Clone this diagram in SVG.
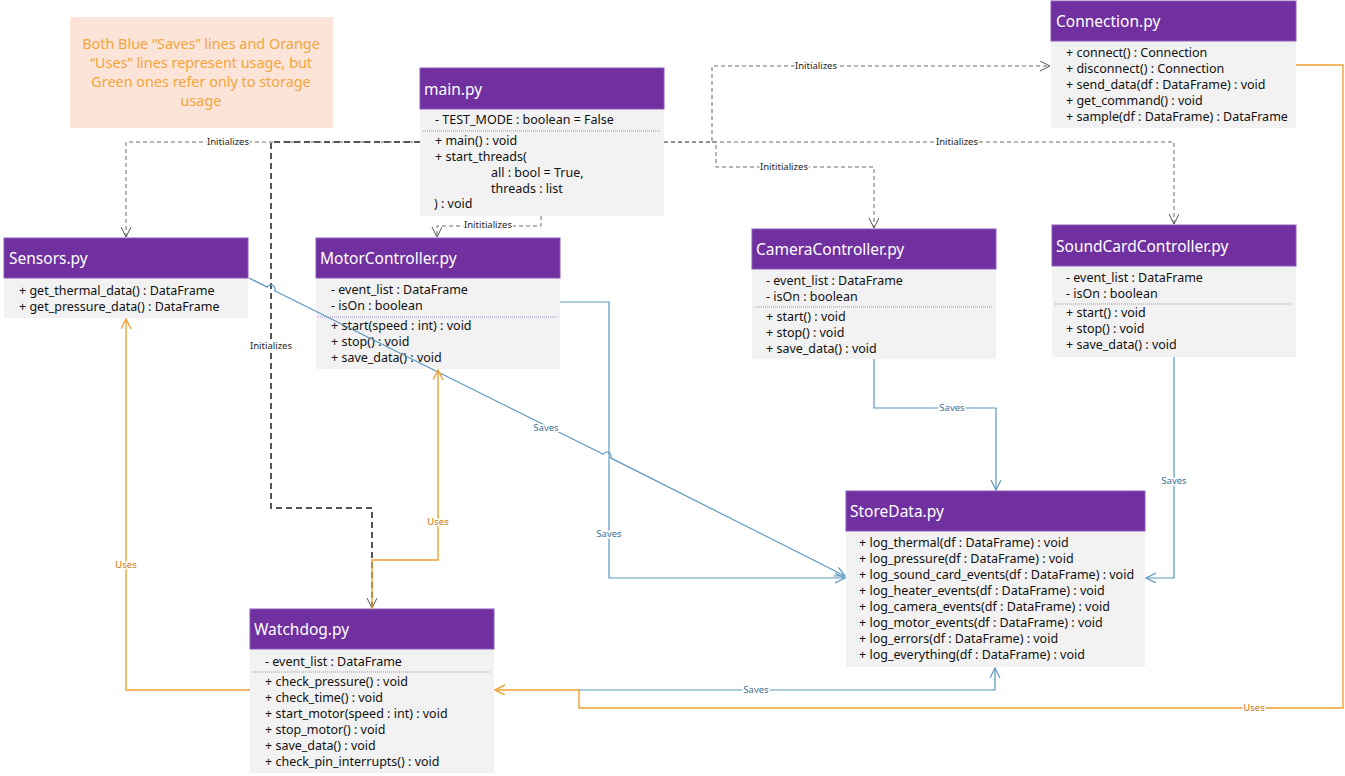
<svg xmlns="http://www.w3.org/2000/svg" width="1345" height="776" viewBox="0 0 1345 776">
<style>
.hd{fill:#7030a0;stroke:#8d5cbb;stroke-width:1}
.bd{fill:#f2f2f2}
.tt{font-family:"Noto Sans","Open Sans",sans-serif;font-size:15.5px;fill:#ffffff}
.tx{font-family:"Noto Sans","Open Sans",sans-serif;font-size:12.5px;fill:#111}
.sep{stroke:#a58cc8;stroke-width:1;stroke-dasharray:1 1}
.dash{fill:none;stroke:#6b6b6b;stroke-width:1;stroke-dasharray:4 3}
.dashk{fill:none;stroke:#555;stroke-width:2;stroke-dasharray:6 4}
.blue{fill:none;stroke:#5b97bf;stroke-width:1.2}
.org{fill:none;stroke:#f0a030;stroke-width:1.4}
.lb{font-family:"Noto Sans","Open Sans",sans-serif;font-size:9.5px;text-anchor:middle;stroke:#fff;stroke-width:3;paint-order:stroke}
.lk{fill:#222}
.lbb{fill:#3a6f9a}
.lbo{fill:#c8740c}
.note{font-family:"Noto Sans","Open Sans",sans-serif;font-size:14.4px;fill:#f4a43a;text-anchor:middle}
</style>
<defs>
<marker id="ag" markerUnits="userSpaceOnUse" markerWidth="12" markerHeight="12" refX="10" refY="5" orient="auto"><path d="M0,0 L10,5 L0,10" fill="none" stroke="#555" stroke-width="1"/></marker>
<marker id="ab" markerUnits="userSpaceOnUse" markerWidth="12" markerHeight="12" refX="10" refY="5" orient="auto"><path d="M0,0 L10,5 L0,10" fill="none" stroke="#5b97bf" stroke-width="1.2"/></marker>
<marker id="ao" markerUnits="userSpaceOnUse" markerWidth="12" markerHeight="12" refX="10" refY="5" orient="auto"><path d="M0,0 L10,5 L0,10" fill="none" stroke="#f0a030" stroke-width="1.4"/></marker>
</defs>
<rect width="1345" height="776" fill="#ffffff"/>

<g id="note">
<rect x="70" y="17" width="263" height="111" fill="#fce4d8"/>
<text class="note" x="201" y="49">Both Blue “Saves” lines and Orange</text>
<text class="note" x="201" y="68">“Uses” lines represent usage, but</text>
<text class="note" x="201" y="87">Green ones refer only to storage</text>
<text class="note" x="201" y="106">usage</text>
</g>

<g id="main">
<rect class="bd" x="420" y="109" width="244" height="107"/>
<rect class="hd" x="420" y="68" width="244" height="41"/>
<text class="tt" x="424" y="95">main.py</text>
<text class="tx" x="435" y="124">- TEST_MODE : boolean = False</text>
<line class="sep" x1="423" y1="131" x2="660" y2="131"/>
<text class="tx" x="435" y="145">+ main() : void</text>
<text class="tx" x="435" y="161">+ start_threads(</text>
<text class="tx" x="491" y="177">all : bool = True,</text>
<text class="tx" x="491" y="193">threads : list</text>
<text class="tx" x="434" y="208">) : void</text>
</g>

<g id="connection">
<rect class="bd" x="1051" y="41" width="245" height="87"/>
<rect class="hd" x="1051" y="1" width="245" height="40"/>
<text class="tt" x="1056" y="27">Connection.py</text>
<text class="tx" x="1066" y="57">+ connect() : Connection</text>
<text class="tx" x="1066" y="73">+ disconnect() : Connection</text>
<text class="tx" x="1066" y="89">+ send_data(df : DataFrame) : void</text>
<text class="tx" x="1066" y="105">+ get_command() : void</text>
<text class="tx" x="1066" y="121">+ sample(df : DataFrame) : DataFrame</text>
</g>

<g id="sensors">
<rect class="bd" x="4" y="278" width="244" height="40"/>
<rect class="hd" x="4" y="238" width="244" height="40"/>
<text class="tt" x="9" y="264">Sensors.py</text>
<text class="tx" x="19" y="295">+ get_thermal_data() : DataFrame</text>
<text class="tx" x="19" y="311">+ get_pressure_data() : DataFrame</text>
</g>

<g id="motor">
<rect class="bd" x="316" y="278" width="244" height="91"/>
<rect class="hd" x="316" y="238" width="244" height="40"/>
<text class="tt" x="320" y="264">MotorController.py</text>
<text class="tx" x="331" y="294">- event_list : DataFrame</text>
<text class="tx" x="331" y="310">- isOn : boolean</text>
<line class="sep" x1="318" y1="317" x2="557" y2="317"/>
<text class="tx" x="331" y="330">+ start(speed : int) : void</text>
<text class="tx" x="331" y="346">+ stop() : void</text>
<text class="tx" x="331" y="362">+ save_data() : void</text>
</g>

<g id="camera">
<rect class="bd" x="752" y="269" width="244" height="90"/>
<rect class="hd" x="752" y="229" width="244" height="40"/>
<text class="tt" x="756" y="255">CameraController.py</text>
<text class="tx" x="766" y="285">- event_list : DataFrame</text>
<text class="tx" x="766" y="301">- isOn : boolean</text>
<line class="sep" x1="755" y1="307" x2="992" y2="307"/>
<text class="tx" x="766" y="321">+ start() : void</text>
<text class="tx" x="766" y="337">+ stop() : void</text>
<text class="tx" x="766" y="353">+ save_data() : void</text>
</g>

<g id="soundcard">
<rect class="bd" x="1052" y="266" width="244" height="91"/>
<rect class="hd" x="1052" y="225" width="244" height="41"/>
<text class="tt" x="1056" y="252">SoundCardController.py</text>
<text class="tx" x="1066" y="282">- event_list : DataFrame</text>
<text class="tx" x="1066" y="298">- isOn : boolean</text>
<line class="sep" x1="1055" y1="304" x2="1292" y2="304"/>
<text class="tx" x="1066" y="317">+ start() : void</text>
<text class="tx" x="1066" y="333">+ stop() : void</text>
<text class="tx" x="1066" y="349">+ save_data() : void</text>
</g>

<g id="storedata">
<rect class="bd" x="846" y="531" width="299" height="136"/>
<rect class="hd" x="846" y="491" width="299" height="40"/>
<text class="tt" x="850" y="517">StoreData.py</text>
<text class="tx" x="859" y="547">+ log_thermal(df : DataFrame) : void</text>
<text class="tx" x="859" y="563">+ log_pressure(df : DataFrame) : void</text>
<text class="tx" x="859" y="579">+ log_sound_card_events(df : DataFrame) : void</text>
<text class="tx" x="859" y="595">+ log_heater_events(df : DataFrame) : void</text>
<text class="tx" x="859" y="611">+ log_camera_events(df : DataFrame) : void</text>
<text class="tx" x="859" y="627">+ log_motor_events(df : DataFrame) : void</text>
<text class="tx" x="859" y="643">+ log_errors(df : DataFrame) : void</text>
<text class="tx" x="859" y="659">+ log_everything(df : DataFrame) : void</text>
</g>

<g id="watchdog">
<rect class="bd" x="250" y="649" width="244" height="124"/>
<rect class="hd" x="250" y="609" width="244" height="40"/>
<text class="tt" x="254" y="635">Watchdog.py</text>
<text class="tx" x="265" y="666">- event_list : DataFrame</text>
<line class="sep" x1="253" y1="672" x2="490" y2="672"/>
<text class="tx" x="265" y="686">+ check_pressure() : void</text>
<text class="tx" x="265" y="702">+ check_time() : void</text>
<text class="tx" x="265" y="718">+ start_motor(speed : int) : void</text>
<text class="tx" x="265" y="734">+ stop_motor() : void</text>
<text class="tx" x="265" y="750">+ save_data() : void</text>
<text class="tx" x="265" y="766">+ check_pin_interrupts() : void</text>
</g>

<g id="connectors">
<!-- main -> Sensors -->
<path class="dash" d="M420,142 H126 V237" marker-end="url(#ag)"/>
<text class="lb lk" x="228" y="145">Initializes</text>
<!-- main -> Watchdog -->
<path class="dashk" d="M420,142 H271 V508 H372 V608" marker-end="url(#ag)"/>
<text class="lb lk" x="271" y="349">Initializes</text>
<!-- main -> Motor -->
<path class="dash" d="M541,216 V226 H437 V237" marker-end="url(#ag)"/>
<text class="lb lk" x="488" y="228">Inititializes</text>
<!-- main -> Connection -->
<path class="dash" d="M664,142 H712 V66 H1050" marker-end="url(#ag)"/>
<text class="lb lk" x="816" y="69">Initializes</text>
<!-- main -> Camera -->
<path class="dash" d="M712,142 H716 V167 H874 V228" marker-end="url(#ag)"/>
<text class="lb lk" x="784" y="170">Inititializes</text>
<!-- main -> SoundCard -->
<path class="dash" d="M664,142 H1174 V224" marker-end="url(#ag)"/>
<text class="lb lk" x="957" y="145">Initializes</text>

<!-- Sensors -> StoreData -->
<path class="blue" d="M249,278 L267.4,287.1 A4,4 0 0 1 274.6,290.7 L603.4,454.3 A4,4 0 0 1 610.6,457.9 L845,576" marker-end="url(#ab)"/>
<text class="lb lbb" x="546" y="431">Saves</text>
<!-- Motor -> StoreData -->
<path class="blue" d="M560,302 H609 V578 H845" marker-end="url(#ab)"/>
<text class="lb lbb" x="609" y="537">Saves</text>
<!-- Camera -> StoreData -->
<path class="blue" d="M874,359 V408 H996 V490" marker-end="url(#ab)"/>
<text class="lb lbb" x="952" y="411">Saves</text>
<!-- SoundCard -> StoreData -->
<path class="blue" d="M1174,357 V578 H1146" marker-end="url(#ab)"/>
<text class="lb lbb" x="1174" y="484">Saves</text>

<!-- Connection -> Watchdog -->
<path class="org" d="M1296,65 H1343 V708 H579 V690 H495" marker-end="url(#ao)"/>
<text class="lb lbo" x="1254" y="711">Uses</text>
<!-- Watchdog -> StoreData -->
<path class="blue" d="M579,690 H995 V668" marker-end="url(#ab)"/>
<text class="lb lbb" x="756" y="693">Saves</text>
<!-- Watchdog -> Sensors -->
<path class="org" d="M250,690 H126 V319" marker-end="url(#ao)"/>
<text class="lb lbo" x="126" y="568">Uses</text>
<!-- Watchdog -> Motor -->
<path class="org" d="M372,609 V560 H438 V370" marker-end="url(#ao)"/>
<text class="lb lbo" x="438" y="525">Uses</text>
</g>
</svg>
